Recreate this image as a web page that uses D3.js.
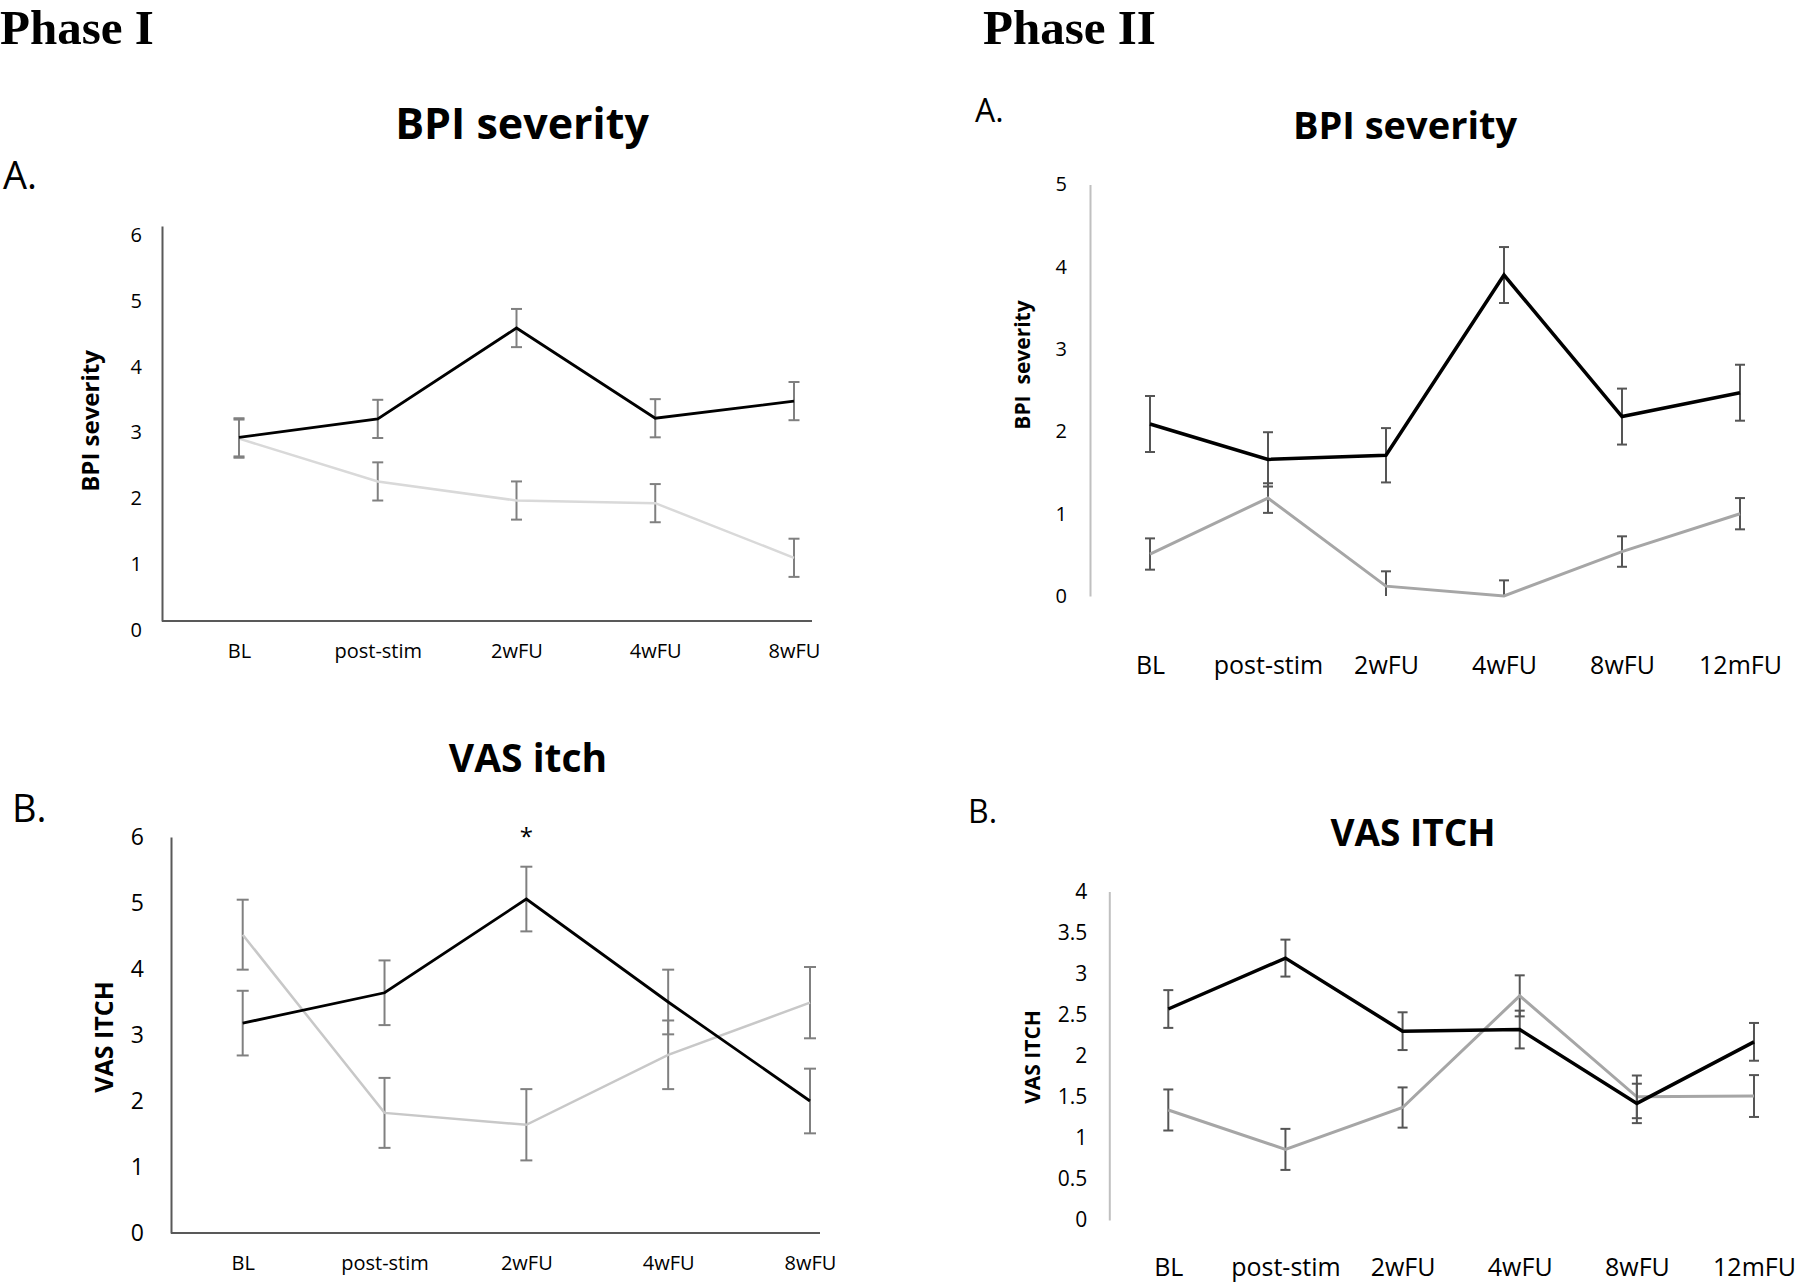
<!DOCTYPE html>
<html>
<head>
<meta charset="utf-8">
<script src="https://cdn.jsdelivr.net/npm/d3@7"></script>
<style>
  html, body { margin: 0; padding: 0; background: #ffffff; }
  svg { display: block; }
  text { font-family: "Open Sans", "Noto Sans", sans-serif; fill: #000; }
</style>
</head>
<body>
<script>
// ---------------- DATA ----------------
const phase1Times = ["BL", "post-stim", "2wFU", "4wFU", "8wFU"];
const phase2Times = ["BL", "post-stim", "2wFU", "4wFU", "8wFU", "12mFU"];

// Phase I – BPI severity
const p1BpiActive    = [2.79, 3.07, 4.45, 3.08, 3.34];
const p1BpiActiveErr = [0.29, 0.29, 0.29, 0.29, 0.29];
const p1BpiSham      = [2.77, 2.12, 1.83, 1.79, 0.96];
const p1BpiShamErr   = [0.29, 0.29, 0.29, 0.29, 0.29];
const p1BpiTicks     = [0, 1, 2, 3, 4, 5, 6];

// Phase I – VAS itch
const p1ItchActive    = [3.18, 3.64, 5.06, 3.50, 2.00];
const p1ItchActiveErr = [0.49, 0.49, 0.49, 0.49, 0.49];
const p1ItchSham      = [4.52, 1.82, 1.64, 2.70, 3.49];
const p1ItchShamErr   = [0.53, 0.53, 0.54, 0.52, 0.54];
const p1ItchTicks     = [0, 1, 2, 3, 4, 5, 6];

// Phase II – BPI severity
const p2BpiActive    = [2.09, 1.66, 1.71, 3.90, 2.18, 2.47];
const p2BpiActiveErr = [0.34, 0.33, 0.33, 0.34, 0.34, 0.34];
const p2BpiSham      = [0.51, 1.19, 0.12, 0.00, 0.54, 1.00];
const p2BpiShamErr   = [0.19, 0.18, 0.18, 0.19, 0.185, 0.19];
const p2BpiTicks     = [0, 1, 2, 3, 4, 5];

// Phase II – VAS ITCH
const p2ItchActive    = [2.57, 3.19, 2.30, 2.32, 1.42, 2.17];
const p2ItchActiveErr = [0.23, 0.225, 0.23, 0.23, 0.24, 0.23];
const p2ItchSham      = [1.34, 0.86, 1.37, 2.73, 1.50, 1.51];
const p2ItchShamErr   = [0.25, 0.25, 0.245, 0.25, 0.26, 0.255];
const p2ItchTicks     = [0, 0.5, 1, 1.5, 2, 2.5, 3, 3.5, 4];

// ---------------- DRAWING ----------------
const svg = d3.select("body").append("svg")
  .attr("width", 1800).attr("height", 1285);

// Phase headings
svg.append("text").attr("x", 0).attr("y", 44)
  .style("font-family", "'Liberation Serif', 'DejaVu Serif', serif")
  .style("font-weight", "bold").style("font-size", "49px").text("Phase I");
svg.append("text").attr("x", 983).attr("y", 44)
  .style("font-family", "'Liberation Serif', 'DejaVu Serif', serif")
  .style("font-weight", "bold").style("font-size", "49px").text("Phase II");

function panel(cfg) {
  const g = svg.append("g");
  const x = d3.scalePoint().domain(cfg.times).range(cfg.xRange);
  const y = d3.scaleLinear().domain(cfg.yDomain).range(cfg.yRange);
  const yMin = cfg.yDomain[0];

  // panel letter
  g.append("text").attr("x", cfg.letter.x).attr("y", cfg.letter.y)
    .style("font-size", cfg.letter.size + "px").text(cfg.letter.text);

  // title
  g.append("text").attr("x", cfg.title.x).attr("y", cfg.title.y)
    .attr("text-anchor", "middle")
    .style("font-weight", "bold").style("font-size", cfg.title.size + "px")
    .text(cfg.title.text);

  // y-axis title
  g.append("text")
    .attr("transform", `translate(${cfg.yTitle.x},${cfg.yTitle.y}) rotate(-90)`)
    .attr("text-anchor", "middle").attr("dy", "0.35em")
    .style("font-weight", "bold").style("font-size", cfg.yTitle.size + "px")
    .style("white-space", "pre")
    .text(cfg.yTitle.text);

  // y axis
  const yAxis = g.append("g")
    .attr("transform", `translate(${cfg.yAxisX},0)`)
    .call(d3.axisLeft(y).tickValues(cfg.ticks).tickSize(0).tickSizeOuter(0)
      .tickPadding(cfg.yLabelPad).tickFormat(d => String(d)));
  yAxis.select(".domain").attr("stroke", cfg.axisColor).attr("stroke-width", 2);
  yAxis.selectAll(".tick text")
    .attr("y", cfg.yLabelShift)
    .style("font-family", "'Open Sans', sans-serif")
    .style("font-size", cfg.yLabelSize + "px").attr("fill", "#000");

  // x axis line (Phase I only)
  if (cfg.xAxisLine) {
    g.append("line")
      .attr("x1", cfg.yAxisX).attr("x2", cfg.xAxisLine.x2)
      .attr("y1", y(yMin)).attr("y2", y(yMin))
      .attr("stroke", cfg.axisColor).attr("stroke-width", 2);
  }

  // x axis labels
  const xAxis = g.append("g")
    .attr("transform", `translate(0,${cfg.xLabelY})`)
    .call(d3.axisBottom(x).tickSize(0).tickPadding(0));
  xAxis.select(".domain").remove();
  xAxis.selectAll(".tick text")
    .attr("dy", "0.35em")
    .style("font-family", "'Open Sans', sans-serif")
    .style("font-size", cfg.xLabelSize + "px").attr("fill", "#000");

  // series
  cfg.series.forEach(s => {
    const pts = cfg.times.map((t, i) => ({ t, v: s.vals[i], e: s.errs[i] }));
    // error bars
    const eb = g.append("g").attr("stroke", cfg.errColor).attr("stroke-width", 2).attr("fill", "none");
    pts.forEach(p => {
      const hi = y(p.v + p.e);
      const lo = y(Math.max(yMin, p.v - p.e));
      const cx = x(p.t);
      eb.append("line").attr("x1", cx).attr("x2", cx).attr("y1", hi).attr("y2", lo);
      eb.append("line").attr("x1", cx - cfg.cap).attr("x2", cx + cfg.cap).attr("y1", hi).attr("y2", hi);
      if (p.v - p.e >= yMin) {
        eb.append("line").attr("x1", cx - cfg.cap).attr("x2", cx + cfg.cap).attr("y1", lo).attr("y2", lo);
      }
    });
    // line
    g.append("path").datum(pts)
      .attr("fill", "none").attr("stroke", s.color).attr("stroke-width", s.width)
      .attr("stroke-linejoin", "miter")
      .attr("d", d3.line().x(d => x(d.t)).y(d => y(d.v)));
  });

  if (cfg.star) {
    const i = cfg.times.indexOf(cfg.star.at);
    g.append("text").attr("x", x(cfg.times[i])).attr("y", cfg.star.y)
      .attr("text-anchor", "middle").style("font-size", "24px").text("*");
  }
}

// Phase I A – BPI severity
panel({
  times: phase1Times,
  series: [
    { vals: p1BpiSham, errs: p1BpiShamErr, color: "#d9d9d9", width: 2.5 },
    { vals: p1BpiActive, errs: p1BpiActiveErr, color: "#000000", width: 2.8 }
  ],
  xRange: [239, 794], yDomain: [0, 6], yRange: [621, 226], ticks: p1BpiTicks,
  yAxisX: 162, axisColor: "#595959", xAxisLine: { x2: 812 },
  yLabelPad: 20, yLabelShift: 9, yLabelSize: 20,
  xLabelY: 651, xLabelSize: 20,
  errColor: "#808080", cap: 5.5,
  title: { text: "BPI severity", x: 522, y: 139, size: 43 },
  yTitle: { text: "BPI severity", x: 91, y: 421, size: 24 },
  letter: { text: "A.", x: 3, y: 189, size: 38 }
});

// Phase I B – VAS itch
panel({
  times: phase1Times,
  series: [
    { vals: p1ItchSham, errs: p1ItchShamErr, color: "#c8c8c8", width: 2.5 },
    { vals: p1ItchActive, errs: p1ItchActiveErr, color: "#000000", width: 2.8 }
  ],
  xRange: [242.7, 810], yDomain: [0, 6], yRange: [1233, 837], ticks: p1ItchTicks,
  yAxisX: 171, axisColor: "#595959", xAxisLine: { x2: 820 },
  yLabelPad: 27, yLabelShift: 0, yLabelSize: 23,
  xLabelY: 1263, xLabelSize: 20,
  errColor: "#808080", cap: 6,
  title: { text: "VAS itch", x: 528, y: 772, size: 39 },
  yTitle: { text: "VAS ITCH", x: 104, y: 1037, size: 25 },
  letter: { text: "B.", x: 12, y: 822, size: 38 },
  star: { at: "2wFU", y: 845 }
});

// Phase II A – BPI severity
panel({
  times: phase2Times,
  series: [
    { vals: p2BpiSham, errs: p2BpiShamErr, color: "#a6a6a6", width: 3 },
    { vals: p2BpiActive, errs: p2BpiActiveErr, color: "#000000", width: 3.5 }
  ],
  xRange: [1150, 1740], yDomain: [0, 5], yRange: [596, 184.5], ticks: p2BpiTicks,
  yAxisX: 1090, axisColor: "#c0c0c0", xAxisLine: null,
  yLabelPad: 23, yLabelShift: 0, yLabelSize: 20,
  xLabelY: 665, xLabelSize: 25,
  errColor: "#555555", cap: 5,
  title: { text: "BPI severity", x: 1405, y: 139, size: 38 },
  yTitle: { text: "BPI  severity", x: 1023, y: 365, size: 21 },
  letter: { text: "A.", x: 975, y: 122, size: 32 }
});

// Phase II B – VAS ITCH
panel({
  times: phase2Times,
  series: [
    { vals: p2ItchSham, errs: p2ItchShamErr, color: "#a6a6a6", width: 3 },
    { vals: p2ItchActive, errs: p2ItchActiveErr, color: "#000000", width: 3.5 }
  ],
  xRange: [1168.3, 1754], yDomain: [0, 4], yRange: [1220, 891.6], ticks: p2ItchTicks,
  yAxisX: 1109.3, axisColor: "#c0c0c0", xAxisLine: null,
  yLabelPad: 22, yLabelShift: 0, yLabelSize: 21,
  xLabelY: 1267, xLabelSize: 25,
  errColor: "#555555", cap: 5,
  title: { text: "VAS ITCH", x: 1413, y: 846, size: 37 },
  yTitle: { text: "VAS ITCH", x: 1033, y: 1057, size: 21 },
  letter: { text: "B.", x: 968, y: 823, size: 32 }
});
</script>
</body>
</html>
